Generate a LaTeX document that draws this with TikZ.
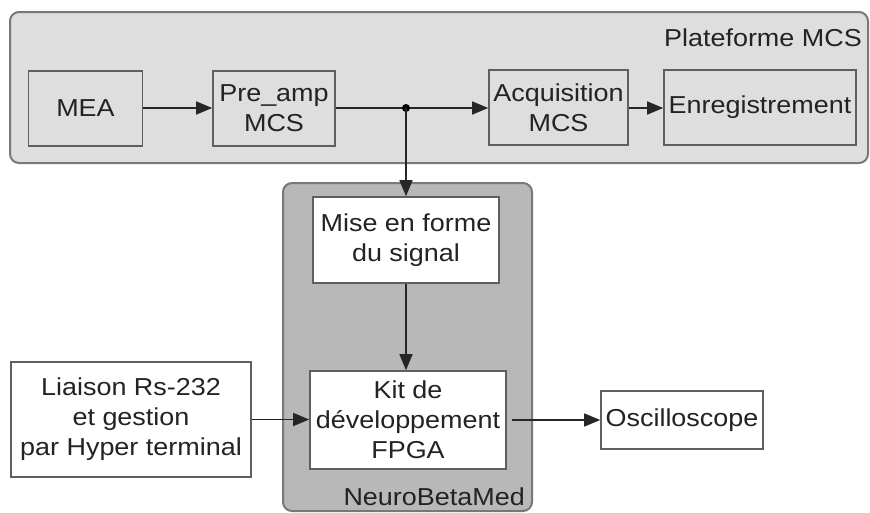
\documentclass[tikz,border=0pt]{standalone}
\usepackage{fontspec}
\setmainfont[FakeStretch=1.1]{Liberation Sans}
\usetikzlibrary{arrows.meta}
\definecolor{platfill}{RGB}{222,222,222}
\definecolor{neurofill}{RGB}{184,184,184}
\definecolor{edgegray}{RGB}{120,120,120}
\definecolor{boxedge}{RGB}{95,95,95}
\definecolor{txt}{RGB}{35,35,35}
\tikzset{
  blk/.style={draw=boxedge, line width=1.6pt, inner sep=0pt, align=center, text=txt,
    font=\fontsize{24.5}{30}\selectfont},
  grayblk/.style={blk, fill=platfill},
  whiteblk/.style={blk, fill=white},
  conn/.style={draw=black!85, line width=1.4pt, -{Triangle[length=16pt,width=13pt]}},
  plain/.style={draw=black!85, line width=1.4pt},
  lbl/.style={text=txt, inner sep=0pt, font=\fontsize{24.5}{30}\selectfont}
}
\begin{document}
\begin{tikzpicture}[x=1pt,y=-1pt]
\useasboundingbox (0,0) rectangle (870,512);
% containers
\draw[fill=platfill, draw=edgegray, line width=2pt, rounded corners=9pt] (10,12) rectangle (868,163);
\node[lbl, anchor=east] (plat) at (862,38) {Plateforme MCS};
\draw[fill=neurofill, draw=edgegray, line width=2pt, rounded corners=9pt] (283,183) rectangle (532,511);
\node[lbl, anchor=east] (neuro) at (525,497) {NeuroBetaMed};
% blocks
\node[grayblk, minimum width=114pt, minimum height=75pt] (mea) at (85.5,108.5) {MEA};
\node[grayblk, minimum width=122pt, minimum height=75pt] (pre) at (274,108.5) {Pre\_amp\\MCS};
\node[grayblk, minimum width=139pt, minimum height=75pt] (acq) at (558.5,107.5) {Acquisition\\MCS};
\node[grayblk, minimum width=192pt, minimum height=75pt] (enr) at (760,107.5) {Enregistrement};
\node[whiteblk, minimum width=186pt, minimum height=86pt] (mise) at (406,240) {Mise en forme\\du signal};
\node[whiteblk, minimum width=196pt, minimum height=98pt] (kit) at (408,420) {Kit de\\développement\\FPGA};
\node[whiteblk, minimum width=240pt, minimum height=115pt] (rs) at (131,419.5) {Liaison Rs-232\\et gestion\\par Hyper terminal};
\node[whiteblk, minimum width=162pt, minimum height=58pt] (osc) at (682,420) {Oscilloscope};
\coordinate (dot) at (406,108);
\coordinate (kitout) at (512,420);
% connectors
\draw[conn] (mea.east |- dot) -- (pre.west |- dot);
\draw[plain] (pre.east |- dot) -- (dot);
\draw[conn] (dot) -- (acq.west |- dot);
\draw[conn] (acq.east |- dot) -- (enr.west |- dot);
\fill[black] (dot) circle (4pt);
\draw[conn] (dot) -- (mise.north -| dot);
\draw[conn] (mise.south -| dot) -- (kit.north -| dot);
\draw[conn] (rs.east) -- (rs.east -| kit.west);
\draw[conn] (kitout) -- (kitout -| osc.west);
\end{tikzpicture}
\end{document}
